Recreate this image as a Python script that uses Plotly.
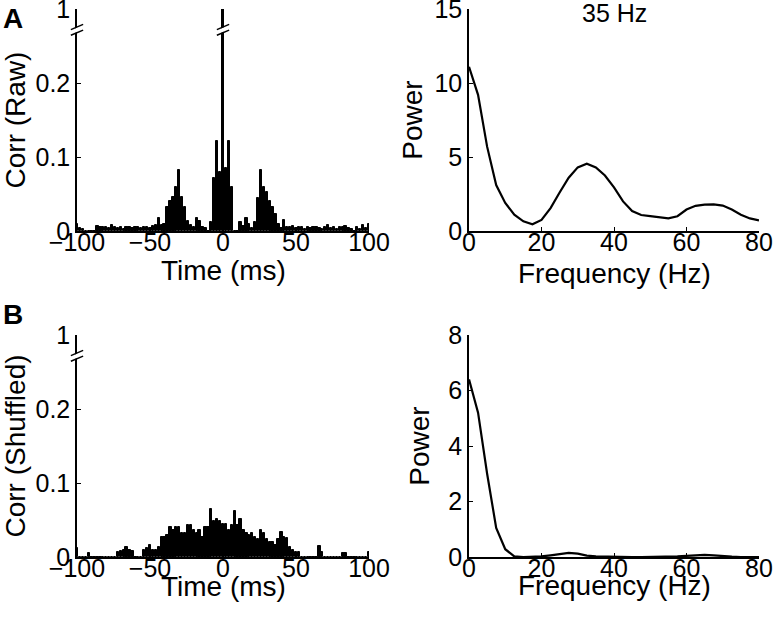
import plotly.graph_objects as go

# ---------------- data ----------------
lag_ms = list(range(-100, 101, 2))

corr_raw = [
    0.010, 0.004, 0.003, 0.0, 0.0, 0.0, 0.0, 0.007, 0.006, 0.005,      # -100..-82
    0.006, 0.004, 0.008, 0.006, 0.004, 0.005, 0.003, 0.006, 0.005, 0.004,  # -80..-62
    0.006, 0.005, 0.004, 0.006, 0.005, 0.004, 0.007, 0.008, 0.018, 0.008,  # -60..-42
    0.010, 0.032, 0.040, 0.046, 0.060, 0.083, 0.046, 0.032, 0.014, 0.008,  # -40..-22
    0.005, 0.017, 0.013, 0.005, 0.004, 0.0, 0.012, 0.072, 0.122, 0.080,    # -20..-2
    1.0, 0.085, 0.122, 0.060, 0.0, 0.0, 0.012, 0.007, 0.018, 0.010,        # 0..18
    0.004, 0.012, 0.045, 0.083, 0.060, 0.053, 0.041, 0.032, 0.023, 0.010,  # 20..38
    0.004, 0.015, 0.006, 0.005, 0.007, 0.004, 0.006, 0.005, 0.003, 0.006,  # 40..58
    0.004, 0.005, 0.006, 0.004, 0.003, 0.006, 0.008, 0.004, 0.005, 0.003,  # 60..78
    0.005, 0.006, 0.007, 0.004, 0.003, 0.0, 0.005, 0.003, 0.008, 0.004,    # 80..98
    0.010,                                                                 # 100
]

corr_shuffled = [
    0.012, 0.0, 0.0, 0.0, 0.005, 0.0, 0.0, 0.0, 0.0, 0.0,                  # -100..-82
    0.0, 0.0, 0.0, 0.0, 0.007, 0.008, 0.010, 0.013, 0.009, 0.008,          # -80..-62
    0.0, 0.0, 0.0, 0.010, 0.012, 0.016, 0.010, 0.010, 0.013, 0.027,        # -60..-42
    0.027, 0.030, 0.041, 0.036, 0.041, 0.040, 0.032, 0.032, 0.043, 0.043,  # -40..-22
    0.036, 0.032, 0.036, 0.027, 0.041, 0.040, 0.065, 0.048, 0.052, 0.048,  # -20..-2
    0.045, 0.044, 0.036, 0.043, 0.062, 0.043, 0.051, 0.036, 0.032, 0.030,  # 0..18
    0.032, 0.027, 0.025, 0.036, 0.032, 0.025, 0.020, 0.020, 0.016, 0.025,  # 20..38
    0.034, 0.027, 0.026, 0.014, 0.009, 0.007, 0.007, 0.0, 0.0, 0.0,        # 40..58
    0.0, 0.0, 0.0, 0.015, 0.007, 0.0, 0.0, 0.0, 0.0, 0.0,                  # 60..78
    0.0, 0.006, 0.006, 0.0, 0.0, 0.0, 0.0, 0.0, 0.0, 0.0,                  # 80..98
    0.007,                                                                 # 100
]

freq_hz = [0, 2.5, 5, 7.5, 10, 12.5, 15, 17.5, 20, 22.5, 25, 27.5, 30, 32.5, 35,
           37.5, 40, 42.5, 45, 47.5, 50, 52.5, 55, 57.5, 60, 62.5, 65, 67.5, 70,
           72.5, 75, 77.5, 80]

power_raw = [11.1, 9.2, 5.7, 3.1, 1.9, 1.1, 0.65, 0.45, 0.75, 1.55, 2.6, 3.6, 4.3,
             4.55, 4.3, 3.75, 2.95, 2.0, 1.35, 1.08, 1.0, 0.92, 0.85, 1.0, 1.45,
             1.7, 1.78, 1.8, 1.72, 1.45, 1.1, 0.85, 0.72]

power_shuffled = [6.4, 5.2, 3.0, 1.05, 0.28, 0.02, 0.0, 0.0, 0.02, 0.06, 0.11, 0.15,
                  0.12, 0.05, 0.02, 0.01, 0.01, 0.0, 0.0, 0.0, 0.0, 0.0, 0.01, 0.02,
                  0.04, 0.06, 0.08, 0.06, 0.03, 0.01, 0.0, 0.0, 0.0]

corr_ticks = [0, 0.1, 0.2, 1]
time_ticks = [-100, -50, 0, 50, 100]

# ---------------- broken y scale ----------------
BREAK_AT = 0.27   # values above this are compressed
AXIS_TOP = 0.30   # display position of the value 1


def brk(v):
    if v <= BREAK_AT:
        return v
    return BREAK_AT + (v - BREAK_AT) / (1.0 - BREAK_AT) * (AXIS_TOP - BREAK_AT)


FONT = "Liberation Sans, Arial, Helvetica, sans-serif"
TICK_SIZE = 25
LABEL_SIZE = 28

fig = go.Figure()
fig.add_trace(go.Bar(x=lag_ms, y=[brk(v) for v in corr_raw], width=1.6,
                     marker=dict(color="black", line=dict(color="black", width=1)),
                     xaxis="x", yaxis="y"))
fig.add_trace(go.Bar(x=lag_ms, y=[brk(v) for v in corr_shuffled], width=1.6,
                     marker=dict(color="black", line=dict(color="black", width=1)),
                     xaxis="x2", yaxis="y2"))
fig.add_trace(go.Scatter(x=freq_hz, y=power_raw, mode="lines",
                         line=dict(color="black", width=2.2), xaxis="x3", yaxis="y3"))
fig.add_trace(go.Scatter(x=freq_hz, y=power_shuffled, mode="lines",
                         line=dict(color="black", width=2.2), xaxis="x4", yaxis="y4"))

W, H = 774, 623
def px_x(p):
    return p / W
def px_y(p):
    return 1 - p / H

dom_x_left = [px_x(77), px_x(369)]
dom_x_right = [px_x(469), px_x(759)]
dom_y_top = [px_y(231), px_y(9)]
dom_y_bot = [px_y(557), px_y(335)]

base = dict(showline=True, linecolor="black", linewidth=1.5, ticks="inside",
            ticklen=4, tickwidth=1, tickcolor="black", showgrid=False,
            zeroline=False, mirror=False, automargin=False,
            ticklabeloverflow="allow",
            tickfont=dict(family=FONT, size=TICK_SIZE, color="black"))
xbase = dict(base, ticklabelstandoff=-12)

def ttl(text, standoff):
    return dict(text=text, standoff=standoff,
                font=dict(family=FONT, size=LABEL_SIZE, color="black"))

fig.update_layout(
    width=W, height=H, margin=dict(l=0, r=0, t=0, b=0),
    paper_bgcolor="white", plot_bgcolor="white", showlegend=False,
    bargap=0,
    xaxis=dict(xbase, domain=dom_x_left, anchor="y", range=[-100, 100],
               tickvals=time_ticks),
    yaxis=dict(base, domain=dom_y_top, anchor="x", range=[0, AXIS_TOP],
               tickvals=[brk(v) for v in corr_ticks],
               ticktext=[str(v) for v in corr_ticks], title=ttl("Corr (Raw)", 13)),
    xaxis2=dict(xbase, domain=dom_x_left, anchor="y2", range=[-100, 100],
                tickvals=time_ticks),
    yaxis2=dict(base, domain=dom_y_bot, anchor="x2", range=[0, AXIS_TOP],
                tickvals=[brk(v) for v in corr_ticks],
                ticktext=[str(v) for v in corr_ticks], title=ttl("Corr (Shuffled)", 13)),
    xaxis3=dict(xbase, domain=dom_x_right, anchor="y3", range=[0, 80], dtick=20),
    yaxis3=dict(base, domain=dom_y_top, anchor="x3", range=[0, 15], dtick=5,
                title=ttl("Power", 4)),
    xaxis4=dict(xbase, domain=dom_x_right, anchor="y4", range=[0, 80], dtick=20),
    yaxis4=dict(base, domain=dom_y_bot, anchor="x4", range=[0, 8], dtick=2,
                title=ttl("Power", 11)),
)

# ---------------- break marks ----------------
def break_marks(xref, yref, xc, hw):
    shapes = []
    dy = 0.007
    lo1 = BREAK_AT - 0.0055
    lo2 = BREAK_AT + 0.0022
    # white gap between the slashes
    shapes.append(dict(type="path", xref=xref, yref=yref, layer="above",
                       path=f"M {xc-hw},{lo1+0.0008} L {xc+hw},{lo1+dy+0.0008} "
                            f"L {xc+hw},{lo2+dy-0.0008} L {xc-hw},{lo2-0.0008} Z",
                       fillcolor="white", line=dict(width=0)))
    for y0 in (lo1, lo2):
        shapes.append(dict(type="line", xref=xref, yref=yref, layer="above",
                           x0=xc - hw, y0=y0, x1=xc + hw, y1=y0 + dy,
                           line=dict(color="black", width=1.5)))
    return shapes

peak_lag = lag_ms[corr_raw.index(max(corr_raw))]
shapes = []
shapes += break_marks("x domain", "y", 0, 0.021)
shapes += break_marks("x2 domain", "y2", 0, 0.021)
shapes += break_marks("x", "y", peak_lag, 4.2)
fig.update_layout(shapes=shapes)

# ---------------- annotations ----------------
lab_font = dict(family=FONT, size=LABEL_SIZE, color="black")
for xr, ypx, txt in [("x domain", 270, "Time (ms)"),
                     ("x2 domain", 586, "Time (ms)"),
                     ("x3 domain", 273, "Frequency (Hz)"),
                     ("x4 domain", 585, "Frequency (Hz)")]:
    fig.add_annotation(text=txt, x=0.5, y=px_y(ypx), xref=xr, yref="paper",
                       xanchor="center", yanchor="middle", showarrow=False,
                       font=lab_font)

ann_font = dict(family=FONT, size=28, color="black")
fig.add_annotation(text="<b>A</b>", x=px_x(13), y=px_y(18), xref="paper", yref="paper",
                   xanchor="center", yanchor="middle", showarrow=False, font=ann_font)
fig.add_annotation(text="<b>B</b>", x=px_x(13), y=px_y(314), xref="paper", yref="paper",
                   xanchor="center", yanchor="middle", showarrow=False, font=ann_font)
fig.add_annotation(text="35 Hz", x=0.5, y=px_y(13), xref="x3 domain", yref="paper",
                   xanchor="center", yanchor="middle", showarrow=False,
                   font=dict(family=FONT, size=TICK_SIZE, color="black"))

fig.write_html("out.html", config={"displayModeBar": False},
               post_script="document.body.style.margin='0px';")
